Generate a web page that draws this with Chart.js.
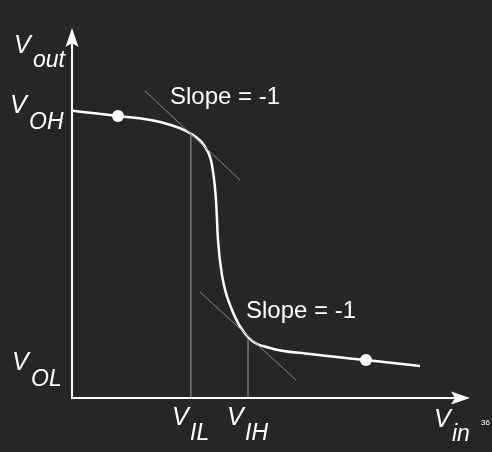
<!DOCTYPE html>
<html>
<head>
<meta charset="utf-8">
<script src="https://cdn.jsdelivr.net/npm/chart.js@4.4.1/dist/chart.umd.min.js"></script>
<style>
  html, body { margin: 0; padding: 0; background: #262626; }
  #wrap { width: 492px; height: 452px; }
</style>
</head>
<body>
<div id="wrap"><canvas id="vtc"></canvas></div>
<script>
// transfer curve (Vin, Vout), arbitrary units
const vin = [0, 1.15, 2.2, 2.95, 3.33, 3.5, 3.6, 3.65, 3.75, 4.0, 4.4, 4.95, 5.95, 7.35, 8.7];
const vout = [7.18, 7.05, 6.9, 6.62, 6.27, 5.82, 4.95, 3.95, 3.07, 2.2, 1.52, 1.25, 1.1, 0.95, 0.8];

// slope = -1 tangents
const tangentHigh = [[1.82, 7.68], [4.2, 5.45]];
const tangentLow = [[3.2, 2.65], [5.6, 0.45]];

// V_IL / V_IH markers
const vIL = [2.97, 6.6];
const vIH = [4.4, 1.45];

// V_OH / V_OL dots
const dots = [[1.15, 7.05], [7.35, 0.95]];

const toPts = arr => arr.map(p => ({ x: p[0], y: p[1] }));

const axesAndLabels = {
  id: "axesAndLabels",
  afterDatasetsDraw(chart) {
    const ctx = chart.ctx;
    const x = chart.scales.x, y = chart.scales.y;
    const x0 = x.getPixelForValue(0), y0 = y.getPixelForValue(0);
    const xEnd = x.getPixelForValue(9.95), yEnd = y.getPixelForValue(9.25);
    ctx.save();
    ctx.strokeStyle = "#ffffff";
    ctx.fillStyle = "#ffffff";
    ctx.lineWidth = 2;
    ctx.beginPath();
    ctx.moveTo(x0, yEnd + 10);
    ctx.lineTo(x0, y0);
    ctx.lineTo(xEnd - 10, y0);
    ctx.stroke();
    // arrow heads
    ctx.beginPath();
    ctx.moveTo(x0, yEnd);
    ctx.lineTo(x0 + 6.5, yEnd + 19);
    ctx.lineTo(x0, yEnd + 15);
    ctx.lineTo(x0 - 6.5, yEnd + 19);
    ctx.closePath();
    ctx.fill();
    ctx.beginPath();
    ctx.moveTo(xEnd, y0);
    ctx.lineTo(xEnd - 19, y0 - 6.5);
    ctx.lineTo(xEnd - 15, y0);
    ctx.lineTo(xEnd - 19, y0 + 6.5);
    ctx.closePath();
    ctx.fill();

    ctx.textBaseline = "alphabetic";
    const lab = (main, sub, px, py, sx, sy) => {
      ctx.font = "italic 25px 'Liberation Sans', Arial, sans-serif";
      ctx.fillText(main, px, py);
      ctx.font = "italic 23px 'Liberation Sans', Arial, sans-serif";
      ctx.fillText(sub, sx, sy);
    };
    lab("V", "out", 14, 53, 33, 67);
    lab("V", "OH", 10, 113, 29, 129);
    lab("V", "OL", 12, 370, 31, 386);
    lab("V", "IL", 172, 425, 190, 440);
    lab("V", "IH", 227, 425, 245, 440);
    lab("V", "in", 434, 427, 452, 441);

    ctx.font = "24px 'Liberation Sans', Arial, sans-serif";
    ctx.fillText("Slope = -1", 170, 104);
    ctx.fillText("Slope = -1", 246, 318);
    ctx.font = "8px 'Liberation Sans', Arial, sans-serif";
    ctx.fillText("36", 481, 425);
    ctx.restore();
  }
};

new Chart(document.getElementById("vtc"), {
  type: "scatter",
  data: {
    datasets: [
      {
        data: toPts(tangentHigh),
        showLine: true,
        borderColor: "#8a8a8a",
        borderWidth: 1,
        pointRadius: 0
      },
      {
        data: toPts(tangentLow),
        showLine: true,
        borderColor: "#8a8a8a",
        borderWidth: 1,
        pointRadius: 0
      },
      {
        data: [{ x: vIL[0], y: 0 }, { x: vIL[0], y: vIL[1] }],
        showLine: true,
        borderColor: "#7a7a7a",
        borderWidth: 1.5,
        pointRadius: 0
      },
      {
        data: [{ x: vIH[0], y: 0 }, { x: vIH[0], y: vIH[1] }],
        showLine: true,
        borderColor: "#7a7a7a",
        borderWidth: 1.5,
        pointRadius: 0
      },
      {
        data: vin.map((v, i) => ({ x: v, y: vout[i] })),
        showLine: true,
        borderColor: "#ffffff",
        borderWidth: 2.5,
        tension: 0.4,
        cubicInterpolationMode: "monotone",
        pointRadius: 0
      },
      {
        data: toPts(dots),
        showLine: false,
        pointRadius: 6,
        pointBackgroundColor: "#ffffff",
        pointBorderWidth: 0
      }
    ]
  },
  options: {
    responsive: true,
    maintainAspectRatio: false,
    animation: false,
    layout: { padding: { left: 72, right: 20, top: 26, bottom: 54 } },
    scales: {
      x: { type: "linear", min: 0, max: 10, display: false },
      y: { type: "linear", min: 0, max: 9.3, display: false }
    },
    plugins: {
      legend: { display: false },
      tooltip: { enabled: false }
    }
  },
  plugins: [axesAndLabels]
});
</script>
</body>
</html>
